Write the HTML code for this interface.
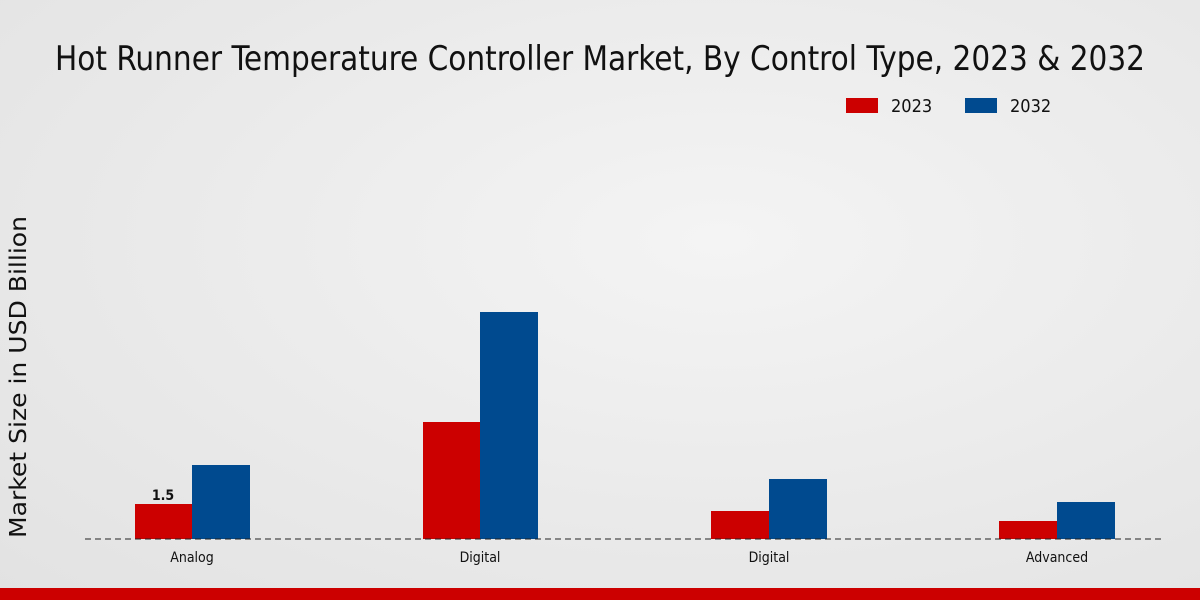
<!DOCTYPE html>
<html><head><style>
body{margin:0;width:1200px;height:600px;overflow:hidden;background:radial-gradient(ellipse at 60% 40%,#f4f4f4 0%,#e9e9e9 60%,#e2e2e2 100%);font-family:"DejaVu Sans Condensed","DejaVu Sans","Liberation Sans",sans-serif;}
</style></head><body>
<svg width="1200" height="600" xmlns="http://www.w3.org/2000/svg" style="position:absolute;left:0;top:0">
<text x="600" y="70" text-anchor="middle" font-size="34" fill="#111" font-family="DejaVu Sans Condensed, DejaVu Sans, sans-serif" textLength="1090" lengthAdjust="spacingAndGlyphs">Hot Runner Temperature Controller Market, By Control Type, 2023 &amp; 2032</text>
<rect x="846" y="98" width="32" height="15" fill="#cc0000"/>
<text x="891" y="112" font-size="18" fill="#111">2023</text>
<rect x="965" y="98" width="32" height="15" fill="#004a8f"/>
<text x="1010" y="112" font-size="18" fill="#111">2032</text>
<text transform="translate(26,377) rotate(-90)" text-anchor="middle" font-size="23" fill="#111" font-family="DejaVu Sans, sans-serif" textLength="322" lengthAdjust="spacingAndGlyphs">Market Size in USD Billion</text>
<rect x="135" y="504" width="57" height="35" fill="#cc0000"/>
<rect x="192" y="465" width="58" height="74" fill="#004a8f"/>
<rect x="423" y="422" width="57" height="117" fill="#cc0000"/>
<rect x="480" y="312" width="58" height="227" fill="#004a8f"/>
<rect x="711" y="511" width="58" height="28" fill="#cc0000"/>
<rect x="769" y="479" width="58" height="60" fill="#004a8f"/>
<rect x="999" y="521" width="58" height="18" fill="#cc0000"/>
<rect x="1057" y="502" width="58" height="37" fill="#004a8f"/>
<line x1="85" y1="539" x2="1163" y2="539" stroke="#222" stroke-width="1" stroke-dasharray="6,4"/>
<text x="163" y="500" text-anchor="middle" font-size="14" font-weight="bold" fill="#111">1.5</text>
<g font-size="14" fill="#111" text-anchor="middle">
<text x="192" y="562">Analog</text>
<text x="480" y="562">Digital</text>
<text x="769" y="562">Digital</text>
<text x="1057" y="562">Advanced</text>
</g>
<rect x="0" y="588" width="1200" height="12" fill="#cc0000"/>
</svg>
</body></html>
